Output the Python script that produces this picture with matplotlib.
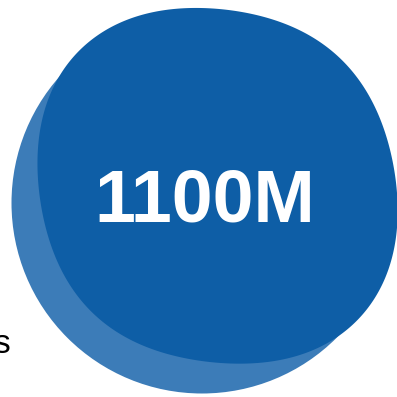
import matplotlib
matplotlib.use("Agg")
import matplotlib.pyplot as plt
import numpy as np
from matplotlib.patches import Circle, Polygon

value_label = "1100M"
side_label = "s"
circle_colors = ["#3C7CB8", "#0E5EA6"]

# front bubble outline: angle (deg, image coords) and radius (px)
front_angles = [353.3, 20.0, 30.7, 36.1, 41.8, 50.0, 59.5, 75.0, 80.9, 85.7,
                118.0, 131.0, 143.3, 155.4, 166.6, 177.7, 188.3, 198.7, 207.0,
                213.3, 220.7, 239.1, 267.3, 303.1, 330.7]
front_radii = [180.7, 186.8, 190.1, 193.6, 196.5, 197.0, 190.3, 180.1, 179.3, 178.5,
               177.8, 177.6, 174.0, 177.6, 176.3, 177.6, 180.4, 184.2, 189.2,
               193.2, 193.2, 187.7, 179.2, 176.7, 176.0]


def smooth_outline(cx, cy, angles, radii, order=4, n=720):
    th_s = np.deg2rad(angles)
    cols = [np.ones_like(th_s)]
    for k in range(1, order + 1):
        cols += [np.cos(k * th_s), np.sin(k * th_s)]
    coef, *_ = np.linalg.lstsq(np.column_stack(cols), np.asarray(radii), rcond=None)
    th = np.linspace(0, 2 * np.pi, n, endpoint=False)
    r = np.full_like(th, coef[0])
    for k in range(1, order + 1):
        r += coef[2 * k - 1] * np.cos(k * th) + coef[2 * k] * np.sin(k * th)
    return np.column_stack([cx + r * np.cos(th), cy + r * np.sin(th)])


fig = plt.figure(figsize=(3.97, 3.97), dpi=100)
ax = fig.add_axes([0, 0, 1, 1])
ax.set_xlim(0, 397)
ax.set_ylim(397, 0)
ax.set_aspect("equal")
ax.axis("off")

ax.add_patch(Circle((202, 203), 190.5, color=circle_colors[0], lw=0))
ax.add_patch(Polygon(smooth_outline(216.5, 186, front_angles, front_radii),
                     closed=True, facecolor=circle_colors[1], lw=0))

ax.text(205, 202, value_label, color="white", fontsize=53, fontweight="bold",
        family="Liberation Sans", ha="center", va="center")
ax.text(10, 353, side_label, color="black", fontsize=24,
        family="Liberation Sans", ha="right", va="baseline")

fig.savefig("out.png", dpi=100)
